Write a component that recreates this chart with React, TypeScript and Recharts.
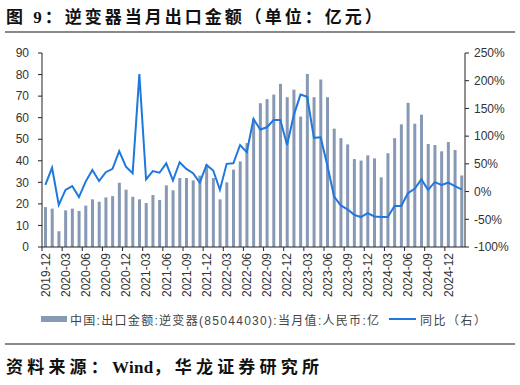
import React from "react";
import { ComposedChart, Bar, Line, XAxis, YAxis } from "recharts";

// months 2019-12 .. 2025-02
const months: string[] = [];
for (let i = 0; i < 63; i++) {
  const m = 11 + i;
  const yr = 2019 + Math.floor(m / 12);
  const mo = (m % 12) + 1;
  months.push(`${yr}-${mo < 10 ? "0" + mo : mo}`);
}

// 中国:出口金额:逆变器 当月值 (亿元)
const exportValues = [
  18.5, 17.8, 7.3, 17.0, 17.8, 16.7, 19.2, 22.1, 21.0, 23.0, 23.6, 29.8,
  26.6, 23.3, 22.1, 20.4, 24.1, 21.8, 28.6, 26.3, 32.0, 32.0, 30.9, 33.1,
  38.3, 32.0, 22.1, 30.0, 35.9, 39.7, 48.2, 59.5, 66.7, 68.6, 70.7, 75.7,
  69.5, 73.0, 60.5, 80.3, 69.5, 77.7, 69.5, 54.9, 50.5, 47.6, 40.8, 40.1,
  42.5, 41.1, 32.3, 43.5, 50.5, 56.9, 66.9, 57.2, 61.4, 47.8, 47.3, 44.4,
  48.7, 45.0, 33.2,
];

// 同比 (%)
const yoyValues = [
  12, 43, -24, 3, 10, -10, 18, 39, 19, 35, 41, 73,
  45, 33, 212, 22, 37, 34, 51, 20, 53, 41, 33, 16,
  48, 38, 3, 50, 51, 84, 71, 131, 112, 116, 129, 129,
  84, 138, 175, 171, 97, 98, 47, -9, -25, -32, -42, -46,
  -39, -45, -46, -46, -26, -26, -3, 5, 22, 3, 17, 12,
  16, 10, 4,
];

const leftTicks = [0, 10, 20, 30, 40, 50, 60, 70, 80, 90];
const rightTicks = [-100, -50, 0, 50, 100, 150, 200, 250];

const data = months.map((month, i) => ({
  month,
  value: exportValues[i],
  yoy: yoyValues[i],
}));

const BAR_COLOR = "#8799b4";
const LINE_COLOR = "#1f78de";
const PLOT_W = 520 - 42 - 55;
const BAND = PLOT_W / months.length;
const AXIS_FONT = "'Liberation Sans', Arial, sans-serif";
const HEAD_FONT = "'Liberation Serif', 'Noto Sans CJK SC', serif";

const XTick = (props: any) => {
  const { x, y, payload } = props;
  return (
    <g transform={`translate(${x},${y})`}>
      <line x1={-BAND / 2} x2={-BAND / 2} y1={0} y2={4} stroke="#222" />
      <text
        transform="rotate(-90)"
        x={-6}
        y={0}
        dy="0.36em"
        textAnchor="end"
        fontSize={12}
        fontFamily={AXIS_FONT}
        fill="#333"
      >
        {payload.value}
      </text>
    </g>
  );
};

export default function App() {
  return (
    <div
      style={{
        position: "absolute",
        left: 0,
        top: 0,
        width: 520,
        height: 385,
        background: "#fff",
        overflow: "hidden",
      }}
    >
      <div
        style={{
          position: "absolute",
          left: 6,
          top: 3,
          fontFamily: HEAD_FONT,
          fontWeight: 700,
          fontSize: 17,
          letterSpacing: 3,
          whiteSpace: "nowrap",
          color: "#111",
        }}
      >
        图 9：逆变器当月出口金额（单位：亿元）
      </div>
      <div style={{ position: "absolute", left: 5, top: 31, width: 510, height: 2, background: "#888" }} />

      <div style={{ position: "absolute", left: 0, top: 0 }}>
        <ComposedChart width={520} height={310} data={data} margin={{ top: 53, right: 0, bottom: 0, left: 0 }}>
          <XAxis
            dataKey="month"
            interval={2}
            height={63}
            tickLine={false}
            tickSize={0}
            tickMargin={0}
            tick={<XTick />}
            axisLine={{ stroke: "#222" }}
          />
          <YAxis
            yAxisId="left"
            orientation="left"
            width={42}
            domain={[0, 90]}
            ticks={leftTicks}
            tickSize={4}
            tickMargin={9}
            axisLine={{ stroke: "#222" }}
            tickLine={{ stroke: "#222" }}
            tick={{ fontSize: 12, fill: "#333", fontFamily: AXIS_FONT }}
          />
          <YAxis
            yAxisId="right"
            orientation="right"
            width={55}
            domain={[-100, 250]}
            ticks={rightTicks}
            tickFormatter={(v: number) => `${v}%`}
            tickSize={4}
            tickMargin={5}
            axisLine={{ stroke: "#222" }}
            tickLine={{ stroke: "#222" }}
            tick={{ fontSize: 12, fill: "#333", fontFamily: AXIS_FONT }}
          />
          <Bar yAxisId="left" dataKey="value" fill={BAR_COLOR} barSize={3} isAnimationActive={false} />
          <Line
            yAxisId="right"
            dataKey="yoy"
            type="linear"
            stroke={LINE_COLOR}
            strokeWidth={2}
            dot={false}
            isAnimationActive={false}
          />
        </ComposedChart>
      </div>

      {/* legend */}
      <div style={{ position: "absolute", left: 41, top: 316, width: 26, height: 6, background: BAR_COLOR }} />
      <div
        style={{
          position: "absolute",
          left: 70,
          top: 311,
          fontFamily: "'Liberation Sans', 'Noto Sans CJK SC', sans-serif",
          fontSize: 12,
          letterSpacing: 1.3,
          whiteSpace: "nowrap",
          color: "#444",
        }}
      >
        中国:出口金额:逆变器(85044030):当月值:人民币:亿
      </div>
      <div style={{ position: "absolute", left: 389, top: 318, width: 27, height: 2, background: LINE_COLOR }} />
      <div
        style={{
          position: "absolute",
          left: 420,
          top: 311,
          fontFamily: "'Noto Sans CJK SC', sans-serif",
          fontSize: 12,
          letterSpacing: 1.5,
          whiteSpace: "nowrap",
          color: "#444",
        }}
      >
        同比（右）
      </div>

      <div style={{ position: "absolute", left: 5, top: 343, width: 510, height: 2, background: "#888" }} />
      <div
        style={{
          position: "absolute",
          left: 6,
          top: 353,
          fontFamily: HEAD_FONT,
          fontWeight: 700,
          fontSize: 17,
          letterSpacing: 4.2,
          whiteSpace: "nowrap",
          color: "#111",
        }}
      >
        资料来源：<span style={{ letterSpacing: 0.3 }}>Wind</span>，华龙证券研究所
      </div>
    </div>
  );
}
